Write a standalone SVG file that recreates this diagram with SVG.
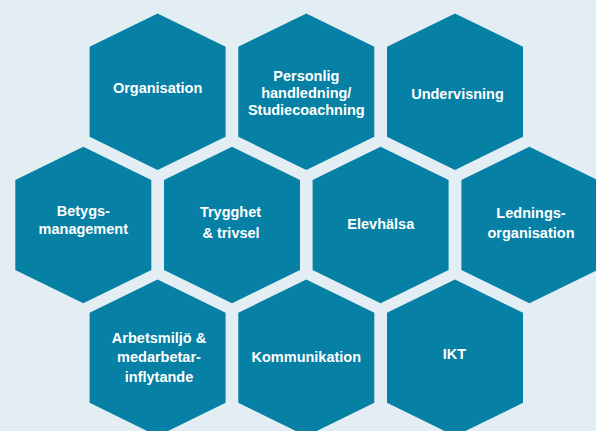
<svg xmlns="http://www.w3.org/2000/svg" xmlns:xlink="http://www.w3.org/1999/xlink" width="596" height="431" viewBox="0 0 596 431">
  <style>
    .hex { fill: #0680a4; }
    .lbl { fill: #ffffff; font-family: "Liberation Sans", Arial, sans-serif; font-weight: bold; font-size: 14.5px; text-anchor: middle; }
  </style>
  <defs>
    <polygon id="hex" points="0,-78.3 68,-45 68,45 0,78.3 -68,45 -68,-45"/>
  </defs>
  <rect x="0" y="0" width="596" height="431" fill="#e2edf4"/>

  <g id="organisation">
    <use xlink:href="#hex" href="#hex" class="hex" x="157.6" y="91.7"/>
    <text class="lbl" x="157.6" y="92.7">Organisation</text>
  </g>
  <g id="personlig">
    <use xlink:href="#hex" href="#hex" class="hex" x="306.3" y="91.7"/>
    <text class="lbl" x="306.3" y="80.5">Personlig</text>
    <text class="lbl" x="306.3" y="97.8">handledning/</text>
    <text class="lbl" x="306.3" y="115.1">Studiecoachning</text>
  </g>
  <g id="undervisning">
    <use xlink:href="#hex" href="#hex" class="hex" x="455" y="91.7"/>
    <text class="lbl" x="457.5" y="99.3">Undervisning</text>
  </g>

  <g id="betygs">
    <use xlink:href="#hex" href="#hex" class="hex" x="83.3" y="225"/>
    <text class="lbl" x="83.3" y="216">Betygs-</text>
    <text class="lbl" x="83.3" y="234.3">management</text>
  </g>
  <g id="trygghet">
    <use xlink:href="#hex" href="#hex" class="hex" x="232" y="225"/>
    <text class="lbl" x="230.5" y="217.3">Trygghet</text>
    <text class="lbl" x="231" y="237.7">&amp; trivsel</text>
  </g>
  <g id="elevhalsa">
    <use xlink:href="#hex" href="#hex" class="hex" x="380.6" y="225"/>
    <text class="lbl" x="380.8" y="229.3">Elevhälsa</text>
  </g>
  <g id="ledning">
    <use xlink:href="#hex" href="#hex" class="hex" x="529.4" y="225"/>
    <text class="lbl" x="531" y="218.3">Lednings-</text>
    <text class="lbl" x="531" y="237.7">organisation</text>
  </g>

  <g id="arbetsmiljo">
    <use xlink:href="#hex" href="#hex" class="hex" x="157.6" y="357.8"/>
    <text class="lbl" x="159" y="342.7">Arbetsmiljö &amp;</text>
    <text class="lbl" x="159" y="362.4">medarbetar-</text>
    <text class="lbl" x="159" y="381.7">inflytande</text>
  </g>
  <g id="kommunikation">
    <use xlink:href="#hex" href="#hex" class="hex" x="306.3" y="357.8"/>
    <text class="lbl" x="306.3" y="361.7">Kommunikation</text>
  </g>
  <g id="ikt">
    <use xlink:href="#hex" href="#hex" class="hex" x="455" y="357.8"/>
    <text class="lbl" x="454.5" y="359.3">IKT</text>
  </g>

  <g id="connectors"/>
</svg>
